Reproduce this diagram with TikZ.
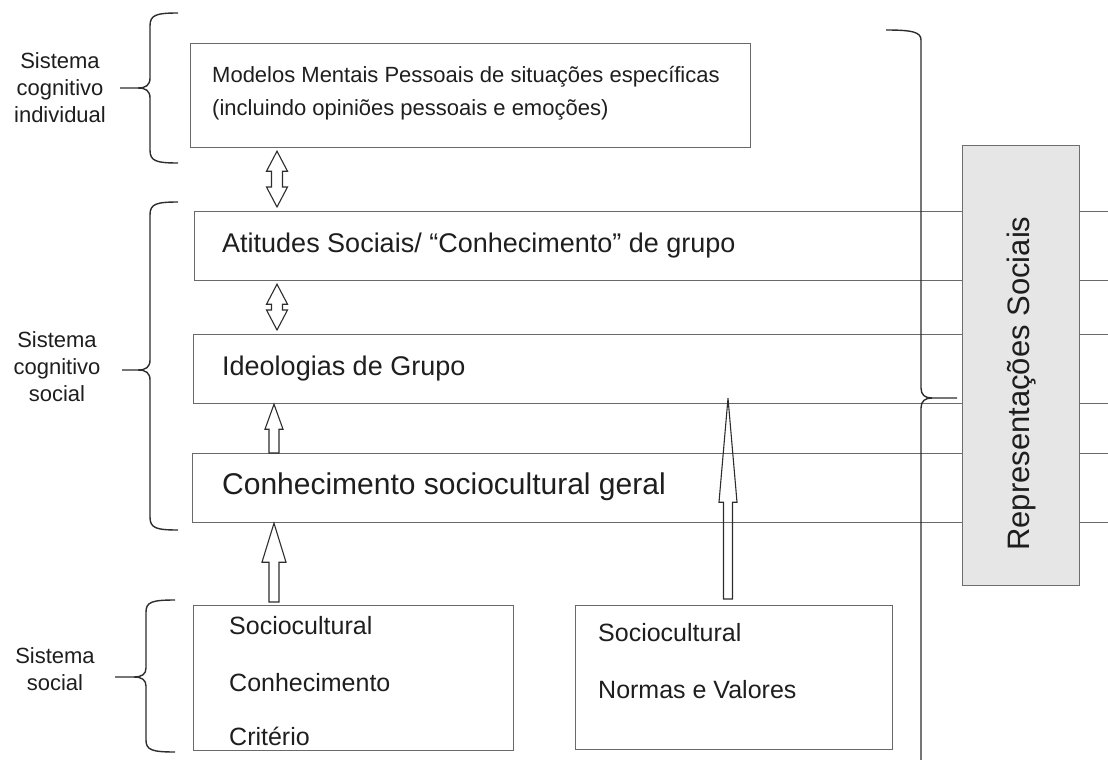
\documentclass[tikz,border=0pt]{standalone}
\usepackage{fontspec}
\setmainfont{Liberation Sans}
\usetikzlibrary{calc}
\definecolor{txtc}{RGB}{30,30,30}
\definecolor{boxc}{RGB}{105,105,105}
\definecolor{brcc}{RGB}{45,45,45}
\definecolor{grayf}{RGB}{230,230,230}
\definecolor{grayb}{RGB}{110,110,110}
\newcommand\hup[5]{\draw[hol] let \p1=(#1), \p2=(#2) in
 (\x1-#5,\y1) -- (\x1-#5,\y2-#3) -- (\x1-#4,\y2-#3) -- (\x1,\y2) -- (\x1+#4,\y2-#3) -- (\x1+#5,\y2-#3) -- (\x1+#5,\y1) -- cycle;}
\newcommand\hdbl[5]{\draw[hol] let \p1=(#1), \p2=(#2) in
 (\x1,\y1) -- (\x1-#4,\y1+#3) -- (\x1-#5,\y1+#3) -- (\x1-#5,\y2-#3) -- (\x1-#4,\y2-#3) -- (\x1,\y2) -- (\x1+#4,\y2-#3) -- (\x1+#5,\y2-#3) -- (\x1+#5,\y1+#3) -- (\x1+#4,\y1+#3) -- cycle;}
\begin{document}
\begin{tikzpicture}[x=1pt,y=-1pt,
 box/.style={draw=boxc, line width=1.2pt, anchor=north west, inner sep=0pt},
 txt/.style={anchor=west, inner sep=0pt, text=txtc, align=left},
 lbl/.style={align=center, inner sep=0pt, text=txtc, font=\fontsize{22}{27}\selectfont},
 brc/.style={draw=brcc, line width=1.4pt},
 hol/.style={draw=brcc, line width=1.1pt, line join=miter}]
\useasboundingbox (0,0) rectangle (1108,760);
\clip (0,0) rectangle (1108,760);
% boxes
\node[box, minimum width=560, minimum height=104] (mod) at (190,43) {};
\node[box, minimum width=930, minimum height=69] (att) at (194,211) {};
\node[box, minimum width=930, minimum height=69] (ide) at (193,334) {};
\node[box, minimum width=930, minimum height=69] (con) at (192,453) {};
\node[box, minimum width=320, minimum height=145] (sc1) at (193,605) {};
\node[box, minimum width=317, minimum height=144] (sc2) at (575,605) {};
% texts in boxes
\node[txt, font=\fontsize{22}{33}\selectfont] (modt) at (212,93) {Modelos Mentais Pessoais de situações específicas\\(incluindo opiniões pessoais e emoções)};
\node[txt, font=\fontsize{27}{32}\selectfont] (attt) at (222,246) {Atitudes Sociais/ ``Conhecimento'' de grupo};
\node[txt, font=\fontsize{27}{32}\selectfont] (idet) at (222,369) {Ideologias de Grupo};
\node[txt, font=\fontsize{30}{35}\selectfont] (cont) at (222,487) {Conhecimento sociocultural geral};
\node[txt, font=\fontsize{25}{29}\selectfont] (s1a) at (229,626) {Sociocultural};
\node[txt, font=\fontsize{25}{29}\selectfont] (s1b) at (229,683) {Conhecimento};
\node[txt, font=\fontsize{25}{29}\selectfont] (s1c) at (229,736) {Critério};
\node[txt, font=\fontsize{25}{29}\selectfont] (s2a) at (598,633) {Sociocultural};
\node[txt, font=\fontsize{25}{29}\selectfont] (s2b) at (598,690) {Normas e Valores};
% gray box
\node[draw=grayb, fill=grayf, line width=1.2pt, anchor=north west, inner sep=0pt, minimum width=117, minimum height=440] (rep) at (962,145) {};
\node[rotate=90, inner sep=0pt, text=txtc, font=\fontsize{31}{36}\selectfont] (rept) at ($(rep.center)+(0,18)$) {Representações Sociais};
% left labels
\node[lbl] (l1) at (60,88) {Sistema\\cognitivo\\individual};
\node[lbl] (l2) at (57,367) {Sistema\\cognitivo\\social};
\node[lbl] (l3) at (55,669) {Sistema\\social};
% left braces
\draw[brc] (178,13) .. controls (156,13) and (150,15) .. (150,26) -- (150,78) .. controls (150,85) and (146,88) .. (138,88) -- (120,88);
\draw[brc] (138,88) .. controls (146,88) and (150,91) .. (150,98) -- (150,150) .. controls (150,161) and (156,163) .. (178,163);
\draw[brc] (178,202) .. controls (156,202) and (150,204) .. (150,215) -- (150,360) .. controls (150,367) and (146,370) .. (138,370) -- (122,370);
\draw[brc] (138,370) .. controls (146,370) and (150,373) .. (150,380) -- (150,517) .. controls (150,528) and (156,530) .. (178,530);
\draw[brc] (175,600) .. controls (152,600) and (146,602) .. (146,612) -- (146,668) .. controls (146,674) and (142,677) .. (134,677) -- (115,677);
\draw[brc] (134,677) .. controls (142,677) and (146,680) .. (146,686) -- (146,740) .. controls (146,750) and (152,752) .. (175,752);
% right brace
\draw[brc] (886,30) .. controls (912,30) and (921,32) .. (921,40) -- (921,388) .. controls (921,395) and (925,398) .. (932,398) -- (957,398);
\draw[brc] (932,398) .. controls (925,398) and (921,401) .. (921,408) -- (921,770);
% arrows
\coordinate (xa) at (277,0);
\coordinate (xb) at (274,0);
\coordinate (xc) at (728,0);
\hdbl{$(att.north-|xa)+(0,-4)$}{$(mod.south-|xa)+(0,3)$}{20pt}{10.5pt}{5.5pt}
\hdbl{$(ide.north-|xa)+(0,-4)$}{$(att.south-|xa)+(0,3)$}{20pt}{10.5pt}{5.5pt}
\hup{con.north-|xb}{ide.south-|xb}{25pt}{9pt}{5pt}
\hup{$(sc1.north-|xb)+(0,-3)$}{con.south-|xb}{39pt}{12pt}{5pt}
\hup{$(sc2.north-|xc)+(0,-6)$}{$(ide.south-|xc)+(0,-6)$}{104pt}{9pt}{4.5pt}
\end{tikzpicture}
\end{document}
